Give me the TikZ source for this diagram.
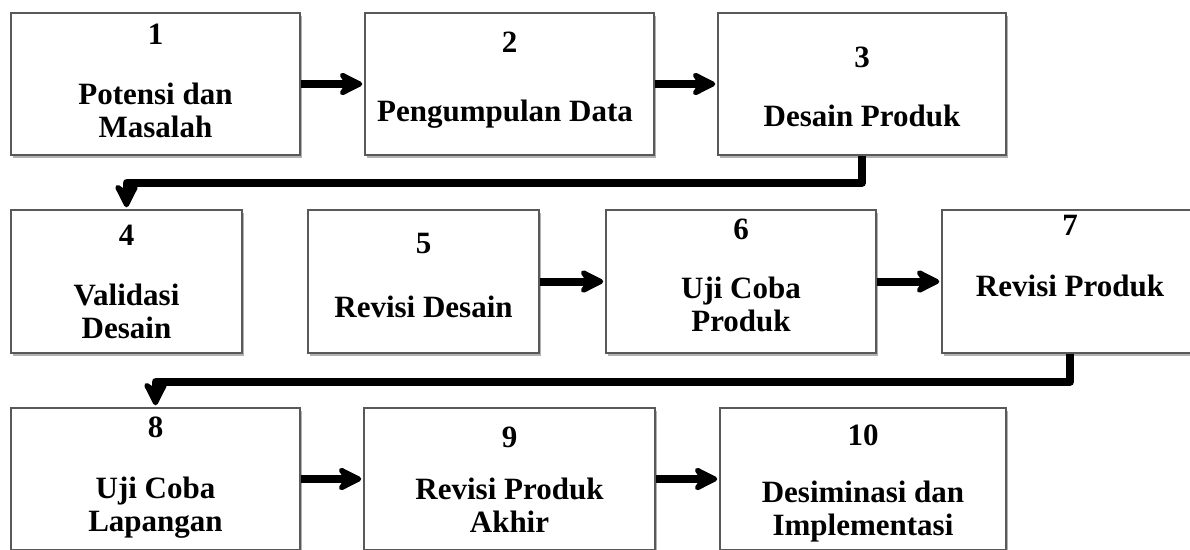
\documentclass[tikz,border=0pt]{standalone}
\usepackage{fontspec}
\setmainfont{Liberation Serif}
\usetikzlibrary{arrows.meta,shadows}

\tikzset{
    stepbox/.style={draw=black!65, line width=1.5pt, fill=white,
        drop shadow={shadow xshift=1.5pt, shadow yshift=-2.5pt, opacity=0.3, fill=black}},
    stepnum/.style={font=\bfseries\fontsize{31}{33}\selectfont, anchor=base, inner sep=0pt},
    steptext/.style={stepnum, align=center},
    flow/.style={line width=8pt, line join=round,
        -{Stealth[length=30pt, width=30pt, inset=10pt, round]}}
}

\begin{document}
\begin{tikzpicture}[x=1pt, y=-1pt]

    \useasboundingbox (0,0) rectangle (1190,549);
    \clip (0,0) rectangle (1190,549);

    \node[stepbox, minimum width=289pt, minimum height=142pt] (b1) at (155.5,84) {};
    \node[stepbox, minimum width=289pt, minimum height=142pt] (b2) at (509.5,84) {};
    \node[stepbox, minimum width=288pt, minimum height=142pt] (b3) at (862,84) {};

    \node[stepbox, minimum width=231pt, minimum height=143pt] (b4) at (126.5,281.5) {};
    \node[stepbox, minimum width=231pt, minimum height=143pt] (b5) at (423.5,281.5) {};
    \node[stepbox, minimum width=270pt, minimum height=143pt] (b6) at (741,281.5) {};
    \node[stepbox, minimum width=256pt, minimum height=143pt] (b7) at (1070,281.5) {};

    \node[stepbox, minimum width=289pt, minimum height=142pt] (b8) at (155.5,479) {};
    \node[stepbox, minimum width=291pt, minimum height=142pt] (b9) at (509.5,479) {};
    \node[stepbox, minimum width=286pt, minimum height=142pt] (b10) at (863,479) {};

    \node[stepnum] (n1) at (155.5,44) {1};
    \node[steptext] (t1) at (155.5,137) {Potensi dan\\Masalah};
    \node[stepnum] (n2) at (509.5,52) {2};
    \node[steptext] (t2) at (505,121) {Pengumpulan Data};
    \node[stepnum] (n3) at (862,67) {3};
    \node[steptext] (t3) at (862,126) {Desain Produk};

    \node[stepnum] (n4) at (126.5,245) {4};
    \node[steptext] (t4) at (126.5,338) {Validasi\\Desain};
    \node[stepnum] (n5) at (423.5,253) {5};
    \node[steptext] (t5) at (423.5,317) {Revisi Desain};
    \node[stepnum] (n6) at (741,239) {6};
    \node[steptext] (t6) at (741,331) {Uji Coba\\Produk};
    \node[stepnum] (n7) at (1070,235) {7};
    \node[steptext] (t7) at (1070,296) {Revisi Produk};

    \node[stepnum] (n8) at (155.5,437) {8};
    \node[steptext] (t8) at (155.5,531) {Uji Coba\\Lapangan};
    \node[stepnum] (n9) at (509.5,447) {9};
    \node[steptext] (t9) at (509.5,532) {Revisi Produk\\Akhir};
    \node[stepnum] (n10) at (863,445) {10};
    \node[steptext] (t10) at (863,535) {Desiminasi dan\\Implementasi};

    \draw[flow, shorten >=2pt] (b1) -- (b2);
    \draw[flow, shorten >=2pt] (b2) -- (b3);
    \draw[flow, shorten >=2pt] (b3.south) -- ++(0,27) -| (b4.north);
    \draw[flow, shorten >=2pt] (b5) -- (b6);
    \draw[flow, shorten >=2pt] (b6) -- (b7);
    \draw[flow, shorten >=2pt] (b7.south) -- ++(0,28) -| (b8.north);
    \draw[flow, shorten >=2pt] (b8) -- (b9);
    \draw[flow, shorten >=2pt] (b9) -- (b10);
\end{tikzpicture}
\end{document}
